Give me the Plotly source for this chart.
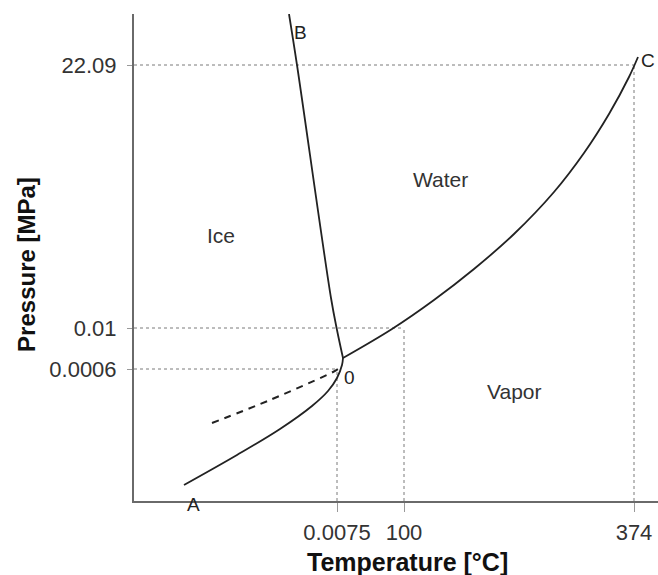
import plotly.graph_objects as go

# Schematic phase diagram of water (axis units are schematic positions)
x_tick_vals = [203, 270, 500]
x_tick_text = ["0.0075", "100", "374"]
y_tick_vals = [132, 173, 436]
y_tick_text = ["0.0006", "0.01", "22.09"]

# Melting curve B -> triple point O
melt_x = [155, 163, 197, 203, 209]
melt_y = [487, 436, 203, 171, 143]

# Vaporization curve O -> critical point C
vap_x = [209, 258, 300, 340, 380, 420, 450, 475, 495, 504]
vap_y = [143, 172, 201, 232, 267, 309, 348, 387, 424, 444]

# Sublimation curve A -> O
sub_x = [50, 103, 146, 178, 194, 203, 208, 209]
sub_y = [16, 46, 72, 95, 110, 123, 136, 143]

# Metastable (supercooled liquid) dashed curve
meta_x = [78, 136, 199, 204]
meta_y = [78, 101, 129, 132]

# Region labels
region_names = ["Ice", "Water", "Vapor"]
region_x = [87, 306, 380]
region_y = [266, 322, 110]

# Point labels
point_names = ["A", "B", "C", "0"]
point_x = [59, 166, 514, 215]
point_y = [1, 469, 441, 124]
point_shift = [-4, 0, 0, 0]

FONT = "Liberation Sans, Arial, Helvetica, sans-serif"
curve = dict(color="#222222", width=1.8)
dot = dict(color="#7a7a7a", width=1, dash="dot")

fig = go.Figure()

# dotted guide lines
guides = [
    ([0, x_tick_vals[2]], [y_tick_vals[2], y_tick_vals[2]]),
    ([0, x_tick_vals[1]], [y_tick_vals[1], y_tick_vals[1]]),
    ([0, x_tick_vals[0]], [y_tick_vals[0], y_tick_vals[0]]),
    ([x_tick_vals[0], x_tick_vals[0]], [0, y_tick_vals[0]]),
    ([x_tick_vals[1], x_tick_vals[1]], [0, y_tick_vals[1]]),
    ([x_tick_vals[2], x_tick_vals[2]], [0, y_tick_vals[2]]),
]
for gx, gy in guides:
    fig.add_trace(go.Scatter(x=gx, y=gy, mode="lines", line=dot, hoverinfo="skip"))

fig.add_trace(go.Scatter(x=melt_x, y=melt_y, mode="lines", line=curve, line_shape="spline"))
fig.add_trace(go.Scatter(x=vap_x, y=vap_y, mode="lines", line=curve, line_shape="spline"))
fig.add_trace(go.Scatter(x=sub_x, y=sub_y, mode="lines", line=curve, line_shape="spline"))
fig.add_trace(go.Scatter(x=meta_x, y=meta_y, mode="lines",
                         line=dict(color="#222222", width=2, dash="7px,6px"),
                         line_shape="spline"))

annotations = []
for n, x, y in zip(region_names, region_x, region_y):
    annotations.append(dict(x=x, y=y, xref="x", yref="y", text=n, showarrow=False,
                            xanchor="center", yanchor="middle",
                            font=dict(family=FONT, size=21, color="#333333")))
for n, x, y, s in zip(point_names, point_x, point_y, point_shift):
    annotations.append(dict(x=x, y=y, xref="x", yref="y", text=n, showarrow=False,
                            xanchor="center", yanchor="middle", yshift=s,
                            font=dict(family=FONT, size=19, color="#222222")))

annotations.append(dict(x=0.521, y=-0.125, xref="paper", yref="paper",
                        xanchor="center", yanchor="middle",
                        text="<b>Temperature [°C]</b>", showarrow=False,
                        font=dict(family=FONT, size=25, color="#111111")))
annotations.append(dict(x=-0.204, y=0.485, xref="paper", yref="paper",
                        xanchor="center", yanchor="middle",
                        text="<b>Pressure [MPa]</b>", showarrow=False, textangle=-90,
                        font=dict(family=FONT, size=24, color="#111111")))

fig.update_layout(
    width=658, height=575,
    margin=dict(l=134, r=0, t=14, b=74, autoexpand=False),
    paper_bgcolor="white", plot_bgcolor="white",
    showlegend=False,
    annotations=annotations,
    xaxis=dict(range=[0, 524], showgrid=False, zeroline=False, automargin=False,
               showline=True, linecolor="#6a6a6a", linewidth=2,
               tickmode="array", tickvals=x_tick_vals, ticktext=x_tick_text,
               ticks="outside", ticklen=9, tickcolor="#999999", tickwidth=1,
               ticklabelstandoff=2,
               tickfont=dict(family=FONT, size=22, color="#333333")),
    yaxis=dict(range=[0, 487], showgrid=False, zeroline=False, automargin=False,
               showline=True, linecolor="#6a6a6a", linewidth=2,
               tickmode="array", tickvals=y_tick_vals, ticktext=y_tick_text,
               ticks="outside", ticklen=5, tickcolor="#999999", tickwidth=1,
               ticklabelstandoff=6,
               tickfont=dict(family=FONT, size=22, color="#333333")),
)

fig.write_html("out.html", config={"displayModeBar": False},
               post_script="document.body.style.margin='0';document.body.style.overflow='hidden';")
